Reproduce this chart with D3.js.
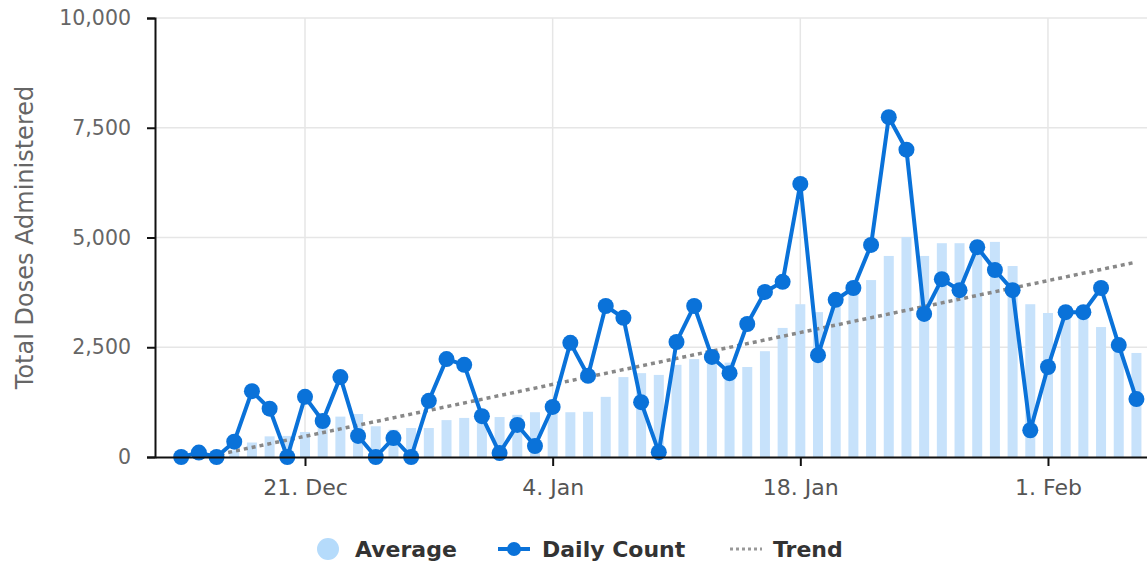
<!DOCTYPE html>
<html lang="en">
<head>
    <meta charset="UTF-8">
    <title>Total Doses Administered</title>
    <script src="https://cdnjs.cloudflare.com/ajax/libs/d3/7.8.5/d3.min.js"></script>
    <style>
        body { margin: 0; background: #fff; font-family: "DejaVu Sans", Verdana, sans-serif; }
        svg { display: block; }
    </style>
</head>
<body>
    <svg id="chart" width="1147" height="563"></svg>
    <script>
        // data, one entry per day starting 14 Dec 2020
        const startDate = "2020-12-14";
        const dailyCount = [
            0, 100, 0, 350, 1500, 1100, 0, 1370, 820, 1820,
            480, 0, 430, 0, 1280, 2230, 2100, 930, 90, 730,
            250, 1140, 2600, 1850, 3440, 3170, 1250, 110, 2620, 3440,
            2280, 1910, 3030, 3760, 3990, 6220, 2320, 3580, 3850, 4830,
            7740, 7000, 3260, 4050, 3800, 4780, 4260, 3800, 610, 2050,
            3300, 3300, 3850, 2550, 1320
        ];
        const average = [
            0, 0, 0, 150, 330, 470, 480, 570, 800, 920,
            980, 700, 620, 660, 660, 840, 890, 900, 910, 960,
            1020, 1020, 1020, 1030, 1370, 1820, 1910, 1870, 2100, 2230,
            2200, 2150, 2050, 2410, 2940, 3480, 3300, 3550, 3800, 4030,
            4580, 5010, 4580, 4870, 4870, 4870, 4900, 4350, 3480, 3280,
            3300, 3190, 2960, 2450, 2370
        ];
        // trend endpoints: [day index, value]
        const trend = [[0, -120], [54, 4440]];
        const xTicks = ["2020-12-21", "2021-01-04", "2021-01-18", "2021-02-01"];
        const yTicks = [0, 2500, 5000, 7500, 10000];
        const legendItems = ["Average", "Daily Count", "Trend"];

        const svg = d3.select("#chart");
        const plotLeft = 155, plotRight = 1147, plotTop = 18, plotBottom = 457;
        const blue = "#0a72d9";

        const parse = d3.timeParse("%Y-%m-%d");
        const day0 = parse(startDate);
        const dateOf = i => d3.timeDay.offset(day0, i);

        // 17.69 px per day, 21. Dec sits at x = 305
        const pxDay = 17.69;
        const ref = parse(xTicks[0]);
        const x = d3.scaleTime()
            .domain([new Date(+ref - (305 - plotLeft) / pxDay * 864e5), new Date(+ref + (plotRight - 305) / pxDay * 864e5)])
            .range([plotLeft, plotRight]);
        const y = d3.scaleLinear().domain([0, 10000]).range([plotBottom, plotTop]);

        // grid
        svg.append("g").selectAll("line")
            .data(yTicks.slice(1))
            .enter().append("line")
            .attr("x1", plotLeft).attr("x2", plotRight)
            .attr("y1", d => y(d)).attr("y2", d => y(d))
            .attr("stroke", "#e6e6e6").attr("stroke-width", 1.5);
        svg.append("g").selectAll("line")
            .data(xTicks.map(parse))
            .enter().append("line")
            .attr("x1", d => x(d)).attr("x2", d => x(d))
            .attr("y1", plotTop).attr("y2", plotBottom)
            .attr("stroke", "#e6e6e6").attr("stroke-width", 1.5);

        svg.append("clipPath").attr("id", "plot")
            .append("rect").attr("x", plotLeft).attr("y", plotTop)
            .attr("width", plotRight - plotLeft).attr("height", plotBottom - plotTop);

        // bars
        const barW = 10;
        svg.append("g").selectAll("rect")
            .data(average)
            .enter().append("rect")
            .attr("x", (d, i) => x(dateOf(i)) - barW / 2)
            .attr("y", d => y(d))
            .attr("width", barW)
            .attr("height", d => plotBottom - y(d))
            .attr("fill", "#c7e2fb");

        // trend
        svg.append("line")
            .attr("clip-path", "url(#plot)")
            .attr("x1", x(dateOf(trend[0][0]))).attr("y1", y(trend[0][1]))
            .attr("x2", x(dateOf(trend[1][0]))).attr("y2", y(trend[1][1]))
            .attr("stroke", "#888").attr("stroke-width", 3.5)
            .attr("stroke-dasharray", "4,4");

        // daily count
        const line = d3.line()
            .x((d, i) => x(dateOf(i)))
            .y(d => y(d));
        svg.append("path")
            .datum(dailyCount)
            .attr("d", line)
            .attr("fill", "none")
            .attr("stroke", blue)
            .attr("stroke-width", 4)
            .attr("stroke-linejoin", "round");
        svg.append("g").selectAll("circle")
            .data(dailyCount)
            .enter().append("circle")
            .attr("cx", (d, i) => x(dateOf(i)))
            .attr("cy", d => y(d))
            .attr("r", 8)
            .attr("fill", blue);

        // axes
        const yAxis = svg.append("g")
            .attr("transform", `translate(${plotLeft},0)`)
            .call(d3.axisLeft(y).tickValues(yTicks).tickFormat(d3.format(",")).tickSize(8).tickSizeOuter(8).tickPadding(16));
        yAxis.select(".domain").attr("stroke", "#111").attr("stroke-width", 2);
        yAxis.selectAll(".tick line").attr("stroke", "#111").attr("stroke-width", 2);
        yAxis.selectAll("text").attr("fill", "#666").attr("font-size", 20.5)
            .attr("font-family", "DejaVu Sans");

        const xAxis = svg.append("g")
            .attr("transform", `translate(0,${plotBottom})`)
            .call(d3.axisBottom(x).tickValues(xTicks.map(parse)).tickFormat(d3.timeFormat("%-d. %b")).tickSize(9).tickSizeOuter(0).tickPadding(13));
        xAxis.select(".domain").attr("stroke", "#111").attr("stroke-width", 2);
        xAxis.selectAll(".tick line").attr("stroke", "#111").attr("stroke-width", 2);
        xAxis.selectAll("text").attr("fill", "#555").attr("font-size", 22)
            .attr("font-family", "DejaVu Sans");

        svg.append("text")
            .attr("transform", `translate(33,${(plotTop + plotBottom) / 2}) rotate(-90)`)
            .attr("text-anchor", "middle")
            .attr("fill", "#666")
            .attr("font-size", 24)
            .text("Total Doses Administered");

        // legend
        const ly = 549;
        const lg = svg.append("g").attr("font-weight", "bold").attr("font-size", 22).attr("fill", "#333");
        lg.append("circle").attr("cx", 328).attr("cy", ly).attr("r", 11).attr("fill", "#b5dbfb");
        lg.append("text").attr("x", 355).attr("y", ly + 8).text(legendItems[0]);
        lg.append("line").attr("x1", 498).attr("x2", 530).attr("y1", ly).attr("y2", ly)
            .attr("stroke", blue).attr("stroke-width", 4);
        lg.append("circle").attr("cx", 514).attr("cy", ly).attr("r", 7).attr("fill", blue);
        lg.append("text").attr("x", 542).attr("y", ly + 8).text(legendItems[1]);
        lg.append("line").attr("x1", 730).attr("x2", 762).attr("y1", ly).attr("y2", ly)
            .attr("stroke", "#999").attr("stroke-width", 3).attr("stroke-dasharray", "3,3");
        lg.append("text").attr("x", 773).attr("y", ly + 8).text(legendItems[2]);
    </script>
</body>
</html>
